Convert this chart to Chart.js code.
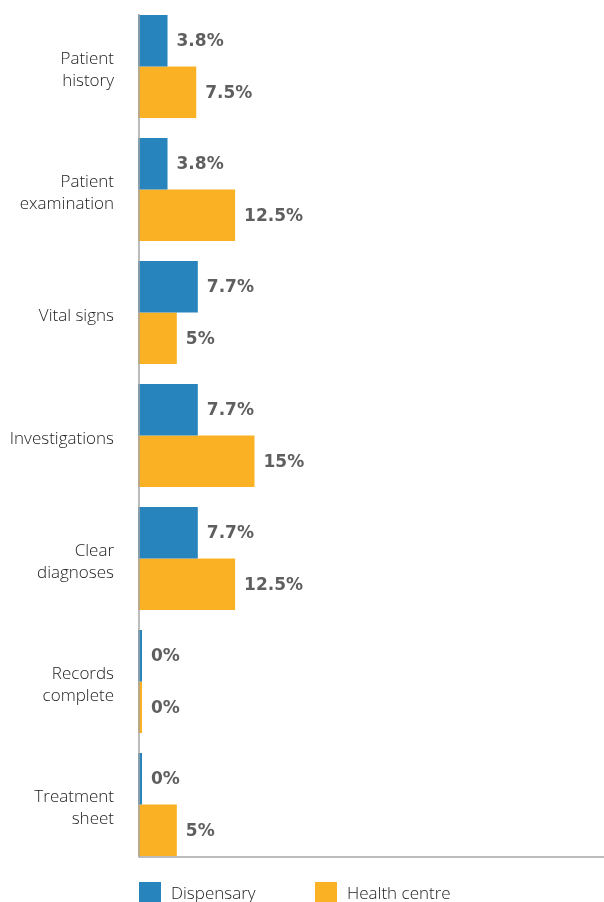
<!DOCTYPE html>
<html>
<head>
<meta charset="utf-8">
<script src="https://cdn.jsdelivr.net/npm/chart.js@4.4.0/dist/chart.umd.min.js"></script>
<style>
  html, body { margin: 0; padding: 0; background: #ffffff; }
  #wrap { width: 604px; height: 902px; }
</style>
</head>
<body>
<div id="wrap"><canvas id="chart"></canvas></div>
<script>
// data
const categories = [
    ['Patient', 'history'],
    ['Patient', 'examination'],
    ['Vital signs'],
    ['Investigations'],
    ['Clear', 'diagnoses'],
    ['Records', 'complete'],
    ['Treatment', 'sheet']
];
const dispensary = [3.8, 3.8, 7.7, 7.7, 7.7, 0, 0];
const healthCentre = [7.5, 12.5, 5, 15, 12.5, 0, 5];
const seriesNames = ['Dispensary', 'Health centre'];
const seriesColors = ['#2784bd', '#fbb124'];

// axis lines hugging the outer bars (no gap above first / below last group)
const axisLines = {
    id: 'axisLines',
    afterDatasetsDraw(chart) {
        const ctx = chart.ctx;
        const first = chart.getDatasetMeta(0).data[0];
        const last = chart.getDatasetMeta(1).data[categories.length - 1];
        const top = first.y - first.height / 2 - 1;
        const bottom = last.y + last.height / 2 + 1;
        const left = chart.chartArea.left + 1;
        ctx.save();
        ctx.strokeStyle = '#a6a6a6';
        ctx.lineWidth = 1.5;
        ctx.beginPath();
        ctx.moveTo(left, top);
        ctx.lineTo(left, bottom);
        ctx.lineTo(chart.chartArea.right, bottom);
        ctx.stroke();
        ctx.restore();
    }
};

// value labels at bar ends
const valueLabels = {
    id: 'valueLabels',
    afterDatasetsDraw(chart) {
        const ctx = chart.ctx;
        ctx.save();
        ctx.font = 'bold 17px "DejaVu Sans"';
        ctx.fillStyle = '#5f5f5f';
        ctx.textAlign = 'left';
        ctx.textBaseline = 'middle';
        chart.data.datasets.forEach((ds, i) => {
            chart.getDatasetMeta(i).data.forEach((bar, j) => {
                ctx.fillText(ds.data[j] + '%', bar.x + 9, bar.y + 1);
            });
        });
        ctx.restore();
    }
};

// legend along the bottom edge
const bottomLegend = {
    id: 'bottomLegend',
    afterDraw(chart) {
        const ctx = chart.ctx;
        const xs = [139, 315];
        ctx.save();
        ctx.font = '300 17px "Open Sans"';
        ctx.textBaseline = 'alphabetic';
        seriesNames.forEach((name, i) => {
            ctx.fillStyle = seriesColors[i];
            ctx.fillRect(xs[i], 882, 22, 22);
            ctx.fillStyle = '#222222';
            ctx.fillText(name, xs[i] + 32, 899);
        });
        ctx.restore();
    }
};

new Chart(document.getElementById('chart'), {
    type: 'bar',
    data: {
        labels: categories,
        datasets: [
            {
                label: seriesNames[0],
                data: dispensary,
                backgroundColor: seriesColors[0],
                minBarLength: 4,
                categoryPercentage: 0.837,
                barPercentage: 1
            },
            {
                label: seriesNames[1],
                data: healthCentre,
                backgroundColor: seriesColors[1],
                minBarLength: 4,
                categoryPercentage: 0.837,
                barPercentage: 1
            }
        ]
    },
    options: {
        indexAxis: 'y',
        responsive: true,
        maintainAspectRatio: false,
        animation: false,
        layout: { padding: { top: 5, bottom: 36, right: 0, left: 0 } },
        plugins: {
            legend: { display: false },
            tooltip: { enabled: false }
        },
        scales: {
            x: {
                display: false,
                min: 0,
                max: 60
            },
            y: {
                border: { display: false },
                grid: { display: false, drawTicks: false },
                ticks: {
                    color: '#222222',
                    font: { family: 'Open Sans', size: 17, weight: 300, lineHeight: 1.3 },
                    padding: 24,
                    labelOffset: 4
                },
                afterFit(scale) {
                    scale.width = 138;
                    scale.paddingTop = 0;
                    scale.paddingBottom = 0;
                }
            }
        }
    },
    plugins: [axisLines, valueLabels, bottomLegend]
});
</script>
</body>
</html>
